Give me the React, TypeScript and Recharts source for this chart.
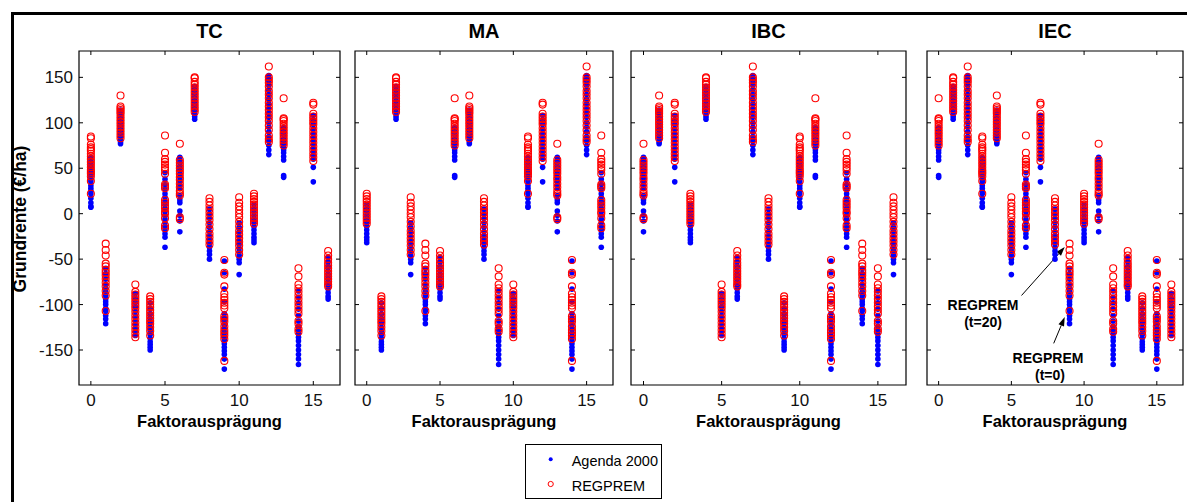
import React from 'react';
import { ScatterChart, Scatter, XAxis, YAxis, ReferenceArea, ReferenceLine } from 'recharts';

// Faktorstufen 0..16 auf der x-Achse
const levels = [0, 1, 2, 3, 4, 5, 6, 7, 8, 9, 10, 11, 12, 13, 14, 15, 16];
const xTicks = [0, 5, 10, 15];
const yTicks = [-150, -100, -50, 0, 50, 100, 150];

// Grundrente (€/ha) je Punktwolke
// (die Wolken kehren in allen vier Teilbildern in anderer Reihenfolge wieder)
const agendaA = [62, 58, 55, 52, 50, 47, 44, 41, 38, 35, 31, 28, 25, 22, 17, 12, 8, 7];
const regpremA = [85, 83, 76, 73, 71, 69, 66, 63, 60, 57, 54, 51, 48, 46, 44, 41, 36, 22];
const agendaB = [-60, -66, -72, -78, -82, -86, -90, -94, -97, -100, -104, -107, -112, -116, -121];
const regpremB = [-33, -40, -46, -55, -58, -62, -65, -68, -72, -76, -80, -85, -90, -107];
const agendaC = [114, 110, 106, 102, 99, 96, 93, 90, 88, 85, 82, 79, 77];
const regpremC = [130, 118, 116, 114, 112, 110, 107, 104, 101, 98, 95, 92, 89, 86, 83];
const agendaD = [-88, -93, -98, -103, -108, -113, -118, -122, -126, -130, -134];
const regpremD = [-78, -86, -89, -92, -95, -98, -101, -104, -108, -112, -116, -120, -124, -128, -132, -136];
const agendaE = [-98, -104, -110, -115, -120, -125, -129, -133, -137, -141, -144, -147, -150];
const regpremE = [-91, -94, -97, -100, -103, -106, -109, -112, -115, -118, -121, -125, -129, -134];
const agendaF = [45, 38, 32, 27, 22, 18, 14, 10, 6, 2, -2, -6, -10, -14, -18, -22, -26, -37];
const regpremF = [86, 67, 60, 57, 54, 51, 48, 44, 32, 30, 28, 15, 12, 9, 6, 2, 0, -5, -13, -16];
const agendaG = [62, 59, 56, 52, 48, 44, 40, 36, 32, 28, 20, 15, 12, 3, -2, -8, -20];
const regpremG = [77, 59, 56, 53, 50, 47, 44, 40, 37, 33, 29, 25, 22, 20, -4, -6];
const agendaH = [140, 137, 134, 131, 128, 125, 122, 119, 116, 113, 110, 107, 104];
const regpremH = [150, 149, 145, 142, 139, 136, 133, 130, 127, 124, 121, 118, 115, 112];
const agendaI = [5, 0, -5, -10, -15, -20, -25, -29, -33, -37, -41, -45, -50];
const regpremI = [17, 13, 9, 5, 1, -3, -7, -12, -17, -22, -26, -30, -34];
const agendaJ = [-52, -65, -83, -97, -110, -115, -119, -123, -127, -131, -135, -139, -143, -147, -151, -155, -160, -171];
const regpremJ = [-51, -65, -67, -80, -88, -92, -95, -98, -101, -104, -113, -116, -119, -124, -128, -131, -134, -138, -162];
const agendaK = [-10, -15, -20, -25, -30, -34, -38, -42, -46, -50, -54, -67];
const regpremK = [18, 12, 8, 4, 0, -4, -9, -14, -19, -23, -27, -31, -35, -40, -45];
const agendaL = [10, 6, 2, -2, -6, -10, -14, -18, -22, -26, -29, -32];
const regpremL = [22, 19, 16, 13, 10, 7, 4, 1, -2, -5, -8, -11];
const agendaM = [152, 149, 146, 141, 136, 131, 126, 121, 116, 111, 106, 100, 95, 90, 85, 80, 75, 70, 65];
const regpremM = [162, 150, 147, 144, 140, 135, 131, 127, 122, 118, 114, 110, 106, 102, 97, 92, 86, 82, 79];
const agendaN = [95, 91, 87, 83, 80, 76, 73, 70, 67, 63, 59, 42, 40];
const regpremN = [127, 105, 104, 102, 99, 96, 93, 90, 87, 84, 81, 78, 75];
const agendaO = [-85, -92, -98, -105, -112, -118, -124, -128, -132, -136, -140, -145, -150, -155, -160, -166];
const regpremO = [-60, -69, -78, -82, -86, -90, -94, -98, -102, -106, -110, -118, -121, -127, -130];
const agendaP = [108, 103, 98, 93, 88, 84, 80, 76, 72, 68, 64, 60, 51, 35];
const regpremP = [122, 120, 110, 107, 104, 101, 98, 94, 90, 86, 82, 78, 74, 70, 66, 62, 58];
const agendaQ = [-48, -53, -58, -63, -67, -71, -75, -79, -83, -87, -91, -94];
const regpremQ = [-41, -46, -50, -54, -57, -60, -63, -66, -69, -72, -75, -78, -80];

// welche Wolke bei welcher Faktorstufe liegt
const orderTC = ['A', 'B', 'C', 'D', 'E', 'F', 'G', 'H', 'I', 'J', 'K', 'L', 'M', 'N', 'O', 'P', 'Q'];
const orderMA = ['L', 'E', 'H', 'K', 'B', 'Q', 'N', 'C', 'I', 'O', 'D', 'A', 'P', 'G', 'J', 'M', 'F'];
const orderIBC = ['G', 'C', 'P', 'L', 'H', 'D', 'Q', 'M', 'I', 'E', 'A', 'N', 'J', 'F', 'B', 'O', 'K'];
const orderIEC = ['N', 'H', 'M', 'A', 'C', 'K', 'F', 'P', 'I', 'B', 'L', 'G', 'O', 'Q', 'E', 'J', 'D'];

const clusters: Record<string, [number[], number[]]> = {
  A: [agendaA, regpremA], B: [agendaB, regpremB], C: [agendaC, regpremC], D: [agendaD, regpremD],
  E: [agendaE, regpremE], F: [agendaF, regpremF], G: [agendaG, regpremG], H: [agendaH, regpremH],
  I: [agendaI, regpremI], J: [agendaJ, regpremJ], K: [agendaK, regpremK], L: [agendaL, regpremL],
  M: [agendaM, regpremM], N: [agendaN, regpremN], O: [agendaO, regpremO], P: [agendaP, regpremP],
  Q: [agendaQ, regpremQ],
};

const FONT = '"Liberation Sans", Arial, sans-serif';
const PLOT_TOP = 51;
const PLOT_H = 334;
const AXIS_W = 80;
const X_DOMAIN: [number, number] = [-0.8, 16.8];
const Y_DOMAIN: [number, number] = [-188.5, 179];

const BlueDot = (p: any) => <circle cx={p.cx} cy={p.cy} r={2.8} fill="#0000ff" />;
const RedCircle = (p: any) => (
  <circle cx={p.cx} cy={p.cy} r={3.5} fill="none" stroke="#ff0000" strokeWidth={1.1} />
);

const Arrow = (p: any) => {
  const { x1, y1, x2, y2 } = p;
  const a = Math.atan2(y2 - y1, x2 - x1);
  const bx = x2 - 9 * Math.cos(a);
  const by = y2 - 9 * Math.sin(a);
  const s = 3 * Math.sin(a);
  const c = 3 * Math.cos(a);
  return (
    <g>
      <line x1={x1} y1={y1} x2={bx} y2={by} stroke="#000" strokeWidth={1} />
      <polygon points={`${x2},${y2} ${bx + s},${by - c} ${bx - s},${by + c}`} fill="#000" />
    </g>
  );
};

interface PanelProps {
  order: string[];
  plotLeft: number;
  plotRight: number;
  showYLabels?: boolean;
  children?: React.ReactNode;
}

const Panel = ({ order, plotLeft, plotRight, showYLabels, children }: PanelProps) => {
  const plotW = plotRight - plotLeft;
  const agenda = order.flatMap((key, i) => clusters[key][0].map(v => ({ x: levels[i], y: v })));
  const regprem = order.flatMap((key, i) => clusters[key][1].map(v => ({ x: levels[i], y: v })));

  const XTick = (p: any) => (
    <g>
      <line x1={p.x} x2={p.x} y1={p.y} y2={p.y - 4} stroke="#000" />
      <line x1={p.x} x2={p.x} y1={p.y - PLOT_H} y2={p.y - PLOT_H + 4} stroke="#000" />
      <text x={p.x} y={p.y + 21} textAnchor="middle" fontSize={17} fontFamily={FONT} fill="#111">
        {p.payload.value}
      </text>
    </g>
  );
  const YTick = (p: any) => (
    <g>
      <line x1={p.x} x2={p.x + 4} y1={p.y} y2={p.y} stroke="#000" />
      <line x1={p.x + plotW} x2={p.x + plotW - 4} y1={p.y} y2={p.y} stroke="#000" />
      {showYLabels && (
        <text x={p.x - 6} y={p.y + 6} textAnchor="end" fontSize={17} fontFamily={FONT} fill="#111">
          {p.payload.value}
        </text>
      )}
    </g>
  );

  return (
    <div style={{ position: 'absolute', left: plotLeft - AXIS_W, top: 0 }}>
      <ScatterChart
        width={AXIS_W + plotW + 10}
        height={PLOT_TOP + PLOT_H + 60}
        margin={{ top: PLOT_TOP, right: 10, bottom: 0, left: 0 }}
      >
        <XAxis
          type="number"
          dataKey="x"
          domain={X_DOMAIN}
          ticks={xTicks}
          interval={0}
          tick={XTick}
          tickLine={false}
          axisLine={false}
          tickSize={0}
          tickMargin={0}
          height={60}
          allowDataOverflow
        />
        <YAxis
          type="number"
          dataKey="y"
          domain={Y_DOMAIN}
          ticks={yTicks}
          interval={0}
          tick={YTick}
          tickLine={false}
          axisLine={false}
          tickSize={0}
          tickMargin={0}
          width={AXIS_W}
          allowDataOverflow
        />
        <ReferenceArea
          x1={X_DOMAIN[0]}
          x2={X_DOMAIN[1]}
          y1={Y_DOMAIN[0]}
          y2={Y_DOMAIN[1]}
          fill="none"
          stroke="#000"
          strokeWidth={1.2}
          fillOpacity={0}
        />
        <Scatter name="Agenda 2000" data={agenda} shape={BlueDot} isAnimationActive={false} />
        <Scatter name="REGPREM" data={regprem} shape={RedCircle} isAnimationActive={false} />
        {children}
      </ScatterChart>
    </div>
  );
};

const panels = [
  { title: 'TC', order: orderTC, left: 79, right: 340 },
  { title: 'MA', order: orderMA, left: 355, right: 613 },
  { title: 'IBC', order: orderIBC, left: 631, right: 906 },
  { title: 'IEC', order: orderIEC, left: 927, right: 1183 },
];

export default function App() {
  return (
    <div
      style={{
        position: 'absolute',
        left: 0,
        top: 0,
        width: 1187,
        height: 502,
        background: '#fff',
        overflow: 'hidden',
        fontFamily: FONT,
      }}
    >
      <div
        style={{
          position: 'absolute',
          left: 11,
          top: 12,
          width: 1200,
          height: 520,
          borderLeft: '3px solid #000',
          borderTop: '3px solid #000',
        }}
      />
      <Panel order={orderTC} plotLeft={79} plotRight={340} showYLabels />
      <Panel order={orderMA} plotLeft={355} plotRight={613} />
      <Panel order={orderIBC} plotLeft={631} plotRight={906} />
      <Panel order={orderIEC} plotLeft={927} plotRight={1183}>
        <ReferenceLine segment={[{ x: 5.7, y: -90 }, { x: 8.67, y: -36.7 }]} shape={Arrow} />
        <ReferenceLine segment={[{ x: 7.91, y: -142.7 }, { x: 8.67, y: -113.7 }]} shape={Arrow} />
      </Panel>

      <svg
        width={1187}
        height={502}
        style={{ position: 'absolute', left: 0, top: 0, pointerEvents: 'none' }}
        fontFamily={FONT}
      >
        {panels.map(p => (
          <g key={p.title}>
            <text x={(p.left + p.right) / 2} y={38} textAnchor="middle" fontSize={20} fontWeight="bold">
              {p.title}
            </text>
            <text x={(p.left + p.right) / 2} y={427} textAnchor="middle" fontSize={16.5} fontWeight="bold">
              Faktorausprägung
            </text>
          </g>
        ))}
        <text transform="translate(26,219) rotate(-90)" textAnchor="middle" fontSize={17.5} fontWeight="bold">
          Grundrente (€/ha)
        </text>
        <text x={983} y={310} textAnchor="middle" fontSize={14} fontWeight="bold">REGPREM</text>
        <text x={983} y={327} textAnchor="middle" fontSize={14} fontWeight="bold">(t=20)</text>
        <text x={1048} y={362.5} textAnchor="middle" fontSize={14} fontWeight="bold">REGPREM</text>
        <text x={1050} y={380} textAnchor="middle" fontSize={14} fontWeight="bold">(t=0)</text>
      </svg>

      <svg width={138} height={56} style={{ position: 'absolute', left: 525, top: 444 }} fontFamily={FONT}>
        <rect x={0.5} y={0.5} width={136} height={54} fill="#fff" stroke="#000" />
        <circle cx={25.7} cy={15.3} r={2} fill="#0000ff" />
        <text x={46.7} y={21.5} fontSize={14.5}>
          Agenda 2000
        </text>
        <circle cx={25.7} cy={40} r={2.6} fill="none" stroke="#ff0000" />
        <text x={46.7} y={46.5} fontSize={14.5}>
          REGPREM
        </text>
      </svg>
    </div>
  );
}
